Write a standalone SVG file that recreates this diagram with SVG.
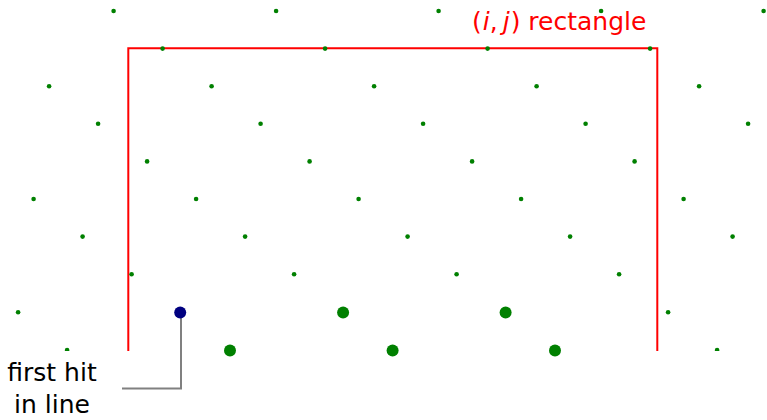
<svg xmlns="http://www.w3.org/2000/svg" width="767" height="420" viewBox="0 0 767 420">
  <style>
    .pt { fill: #008000; }
    .big { fill: #008000; }
    .label { font-family: "DejaVu Sans", "Liberation Sans", sans-serif; font-size: 25px; }
    .red { fill: #ff0000; }
    .math { font-style: italic; }
  </style>
  <defs>
    <clipPath id="view">
      <rect x="0" y="0" width="767" height="351"/>
    </clipPath>
  </defs>
  <rect width="767" height="420" fill="#ffffff"/>

  <!-- rectangle (open at the bottom) -->
  <g id="rect" clip-path="url(#view)">
    <polyline points="128.3,352 128.3,48.3 657.3,48.3 657.3,352" fill="none" stroke="#ff0000" stroke-width="2"/>
  </g>

  <!-- lattice points -->
  <g id="lattice" clip-path="url(#view)">
    <circle class="pt" cx="113.6" cy="11" r="2.3"/>
    <circle class="pt" cx="276.1" cy="11" r="2.3"/>
    <circle class="pt" cx="438.6" cy="11" r="2.3"/>
    <circle class="pt" cx="601.1" cy="11" r="2.3"/>
    <circle class="pt" cx="763.6" cy="11" r="2.3"/>

    <circle class="pt" cx="162.6" cy="48.6" r="2.3"/>
    <circle class="pt" cx="325.1" cy="48.6" r="2.3"/>
    <circle class="pt" cx="487.6" cy="48.6" r="2.3"/>
    <circle class="pt" cx="650.1" cy="48.6" r="2.3"/>

    <circle class="pt" cx="49.1" cy="86.2" r="2.3"/>
    <circle class="pt" cx="211.6" cy="86.2" r="2.3"/>
    <circle class="pt" cx="374.1" cy="86.2" r="2.3"/>
    <circle class="pt" cx="536.6" cy="86.2" r="2.3"/>
    <circle class="pt" cx="699.1" cy="86.2" r="2.3"/>

    <circle class="pt" cx="98.1" cy="123.8" r="2.3"/>
    <circle class="pt" cx="260.6" cy="123.8" r="2.3"/>
    <circle class="pt" cx="423.1" cy="123.8" r="2.3"/>
    <circle class="pt" cx="585.6" cy="123.8" r="2.3"/>
    <circle class="pt" cx="748.1" cy="123.8" r="2.3"/>

    <circle class="pt" cx="147.1" cy="161.4" r="2.3"/>
    <circle class="pt" cx="309.6" cy="161.4" r="2.3"/>
    <circle class="pt" cx="472.1" cy="161.4" r="2.3"/>
    <circle class="pt" cx="634.6" cy="161.4" r="2.3"/>

    <circle class="pt" cx="33.6" cy="199" r="2.3"/>
    <circle class="pt" cx="196.1" cy="199" r="2.3"/>
    <circle class="pt" cx="358.6" cy="199" r="2.3"/>
    <circle class="pt" cx="521.1" cy="199" r="2.3"/>
    <circle class="pt" cx="683.6" cy="199" r="2.3"/>

    <circle class="pt" cx="82.6" cy="236.6" r="2.3"/>
    <circle class="pt" cx="245.1" cy="236.6" r="2.3"/>
    <circle class="pt" cx="407.6" cy="236.6" r="2.3"/>
    <circle class="pt" cx="570.1" cy="236.6" r="2.3"/>
    <circle class="pt" cx="732.6" cy="236.6" r="2.3"/>

    <circle class="pt" cx="131.6" cy="274.2" r="2.3"/>
    <circle class="pt" cx="294.1" cy="274.2" r="2.3"/>
    <circle class="pt" cx="456.6" cy="274.2" r="2.3"/>
    <circle class="pt" cx="619.1" cy="274.2" r="2.3"/>

    <circle class="pt" cx="18.1" cy="312.2" r="2.3"/>
    <circle class="pt" cx="668.1" cy="312.2" r="2.3"/>

    <circle class="pt" cx="67.1" cy="350" r="2.3"/>
    <circle class="pt" cx="717.1" cy="350" r="2.3"/>
  </g>

  <!-- points lying on the line -->
  <g id="hits">
    <circle class="big" cx="343.1" cy="312.6" r="6"/>
    <circle class="big" cx="505.6" cy="312.6" r="6"/>
    <circle class="big" cx="230" cy="350.4" r="6"/>
    <circle class="big" cx="392.6" cy="350.4" r="6"/>
    <circle class="big" cx="555" cy="350.4" r="6"/>
  </g>

  <!-- callout connector -->
  <g id="connectors">
    <polyline points="122,388.5 181,388.5 181,318" fill="none" stroke="#808080" stroke-width="2"/>
  </g>

  <g id="first-hit">
    <circle cx="180.2" cy="312.6" r="6" fill="#000080"/>
  </g>

  <g id="rect-label">
    <text class="label red" x="472" y="30"><tspan>(</tspan><tspan class="math" dx="1">i</tspan><tspan>,</tspan><tspan class="math" dx="5">j</tspan><tspan dx="1">) rectangle</tspan></text>
  </g>

  <g id="callout-label">
    <text class="label" x="52" y="380.5" text-anchor="middle" fill="#000000">first hit</text>
    <text class="label" x="52" y="413" text-anchor="middle" fill="#000000">in line</text>
  </g>
</svg>
